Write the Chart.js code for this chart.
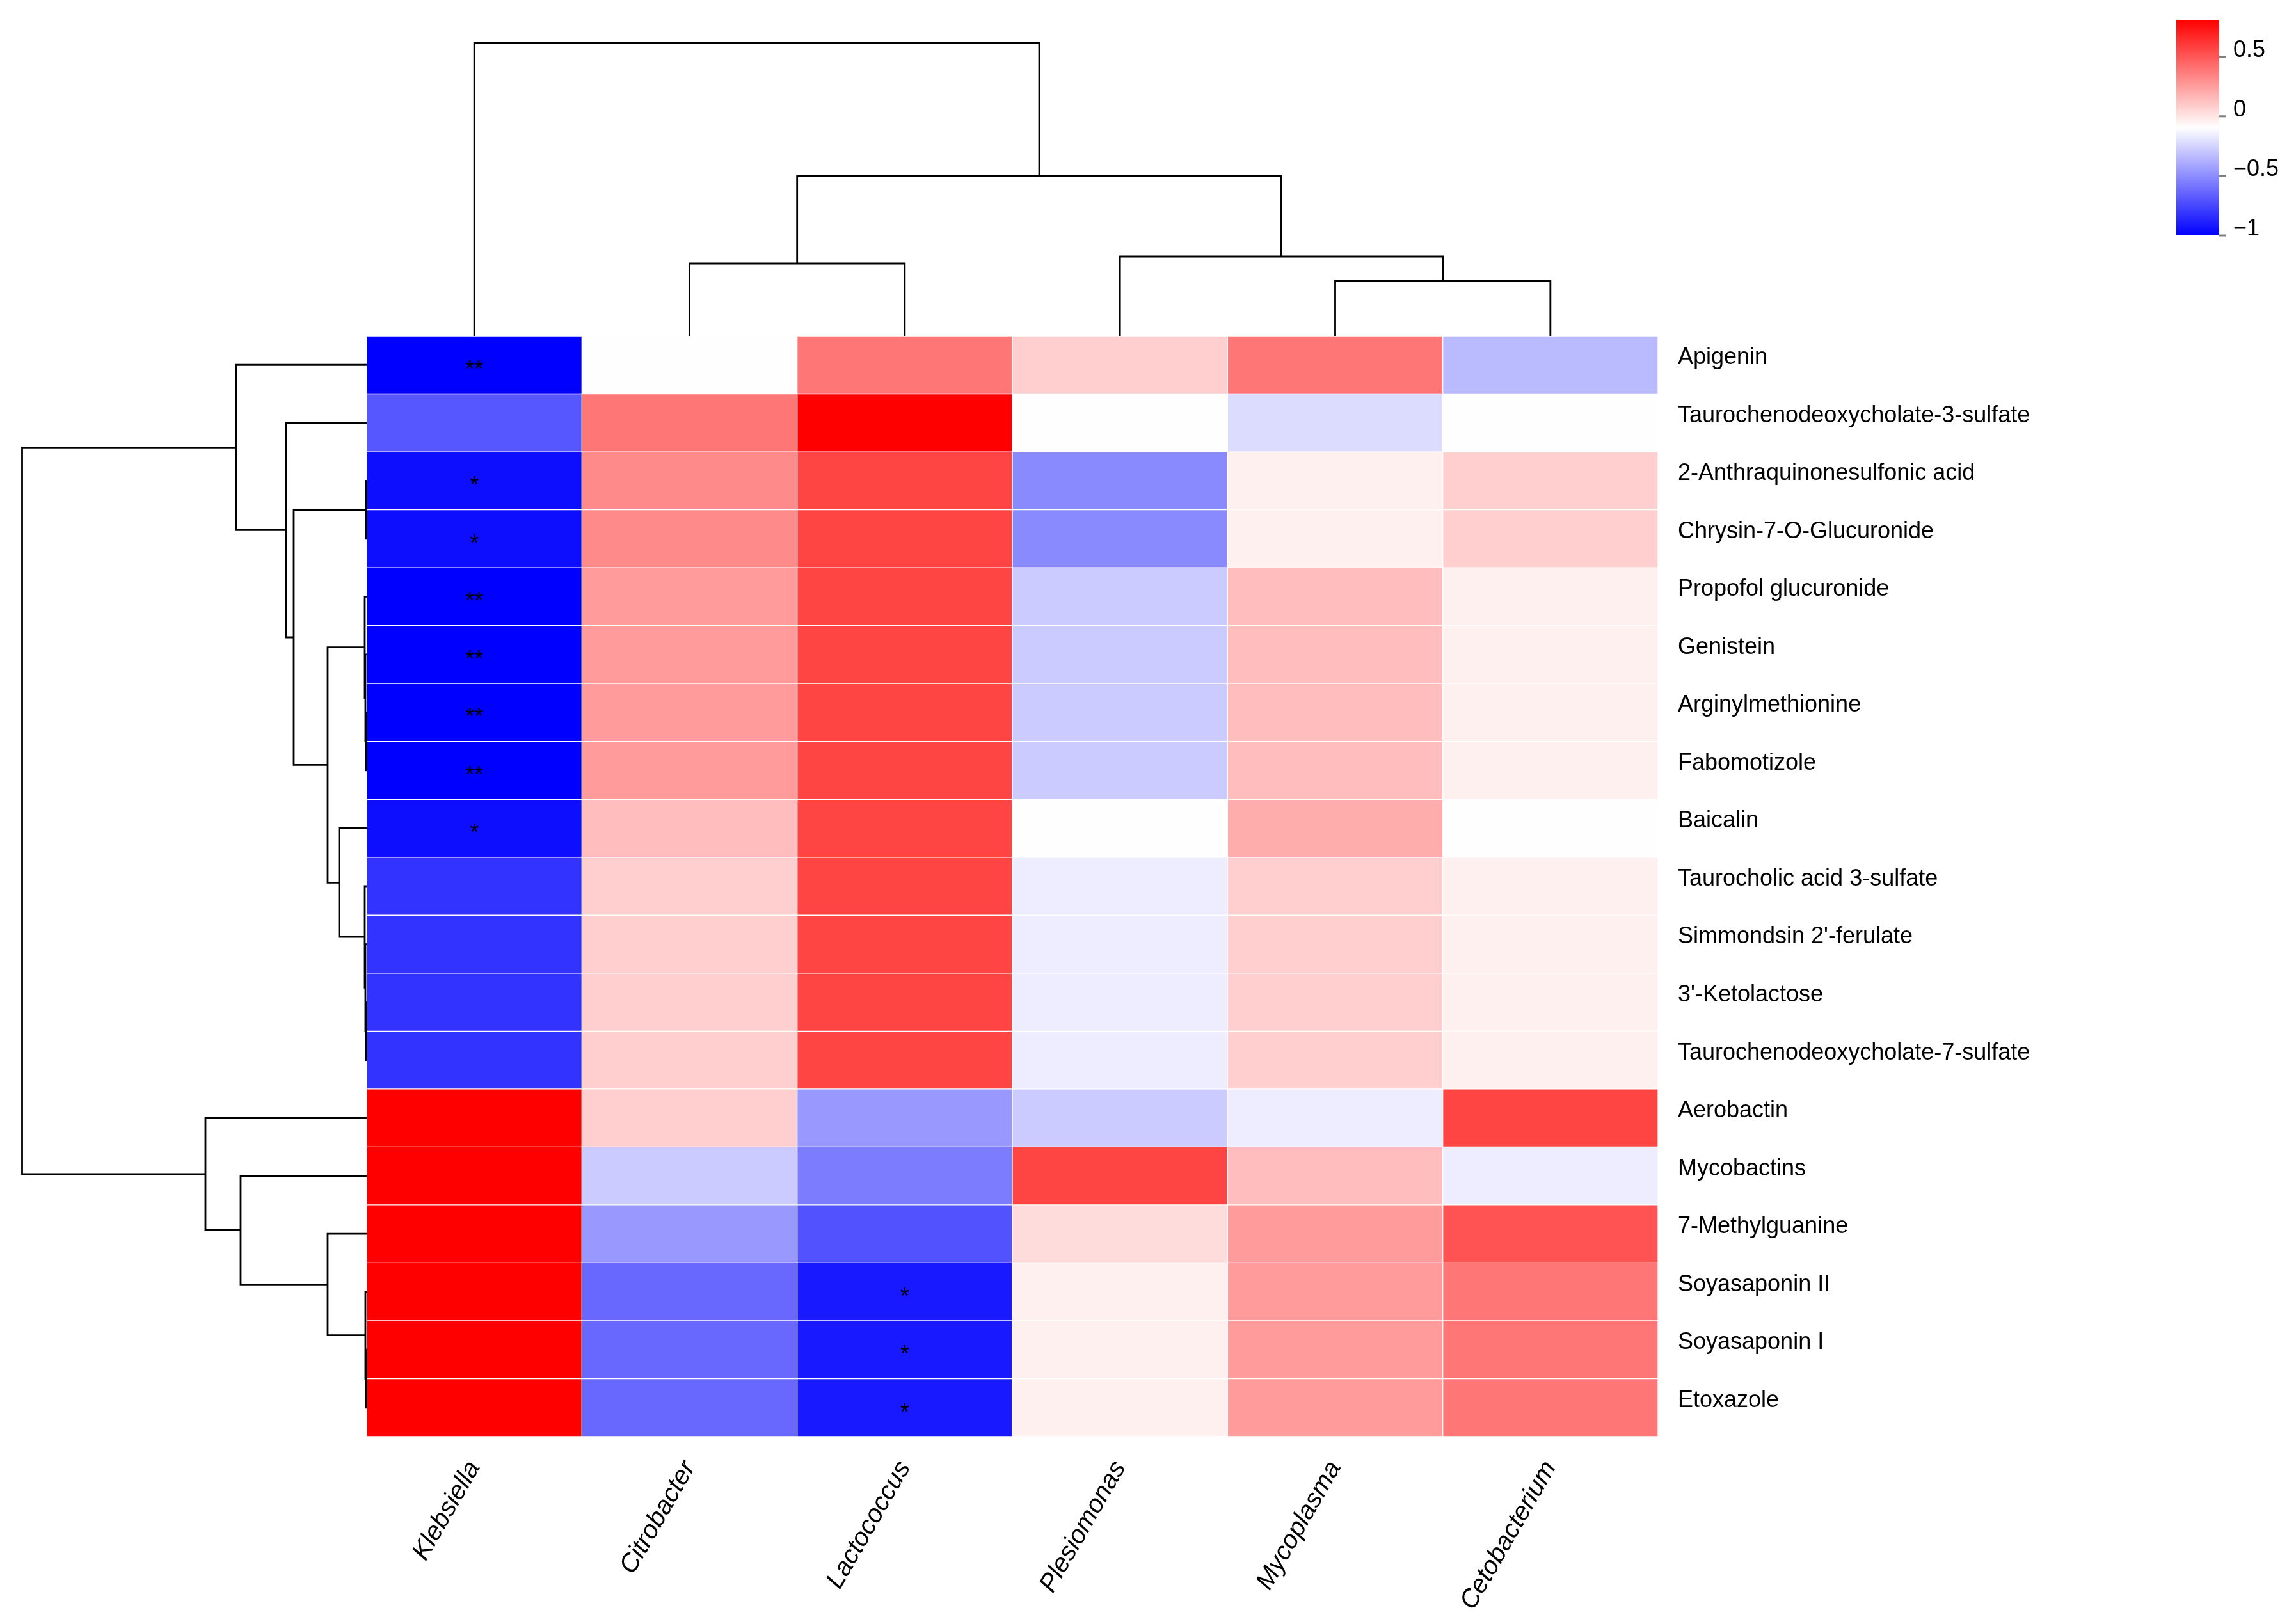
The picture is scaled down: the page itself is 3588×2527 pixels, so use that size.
<!DOCTYPE html>
<html>
<head>
<meta charset="utf-8">
<script src="https://cdn.jsdelivr.net/npm/chart.js@4.4.1/dist/chart.umd.min.js"></script>
<style>
  html, body { margin: 0; padding: 0; background: #fff; }
  #wrap { width: 3588px; height: 2527px; position: relative; }
</style>
</head>
<body>
<div id="wrap"><canvas id="heatmap"></canvas></div>
<script>
// Rows (metabolites), top to bottom
const metabolites = [
    'Apigenin', 'Taurochenodeoxycholate-3-sulfate', '2-Anthraquinonesulfonic acid',
    'Chrysin-7-O-Glucuronide', 'Propofol glucuronide', 'Genistein', 'Arginylmethionine',
    'Fabomotizole', 'Baicalin', 'Taurocholic acid 3-sulfate', "Simmondsin 2'-ferulate",
    "3'-Ketolactose", 'Taurochenodeoxycholate-7-sulfate', 'Aerobactin', 'Mycobactins',
    '7-Methylguanine', 'Soyasaponin II', 'Soyasaponin I', 'Etoxazole'
];
// Columns (genera), left to right
const genera = ['Klebsiella', 'Citrobacter', 'Lactococcus', 'Plesiomonas', 'Mycoplasma', 'Cetobacterium'];

// Correlation of each genus with every metabolite (same order as metabolites)
const klebsiella    = [-1.00, -0.69, -0.95, -0.95, -1.00, -1.00, -1.00, -1.00, -0.95, -0.82, -0.82, -0.82, -0.82, 0.81, 0.81, 0.81, 0.81, 0.81, 0.81];
const citrobacter   = [-0.10, 0.39, 0.32, 0.32, 0.26, 0.26, 0.26, 0.26, 0.14, 0.08, 0.08, 0.08, 0.08, 0.08, -0.28, -0.46, -0.63, -0.63, -0.63];
const lactococcus   = [0.39, 0.81, 0.57, 0.57, 0.57, 0.57, 0.57, 0.57, 0.57, 0.57, 0.57, 0.57, 0.57, -0.46, -0.56, -0.71, -0.91, -0.91, -0.91];
const plesiomonas   = [0.08, -0.10, -0.51, -0.51, -0.28, -0.28, -0.28, -0.28, -0.10, -0.16, -0.16, -0.16, -0.16, -0.28, 0.57, 0.03, -0.04, -0.04, -0.04];
const mycoplasma    = [0.39, -0.22, -0.04, -0.04, 0.14, 0.14, 0.14, 0.14, 0.20, 0.08, 0.08, 0.08, 0.08, -0.16, 0.14, 0.26, 0.26, 0.26, 0.26];
const cetobacterium = [-0.34, -0.09, 0.08, 0.08, -0.04, -0.04, -0.04, -0.04, -0.10, -0.04, -0.04, -0.04, -0.04, 0.57, -0.16, 0.52, 0.39, 0.39, 0.39];

// Significance marks
const klebsiellaSig  = ['**', '', '*', '*', '**', '**', '**', '**', '*', '', '', '', '', '', '', '', '', '', ''];
const lactococcusSig = ['', '', '', '', '', '', '', '', '', '', '', '', '', '', '', '', '*', '*', '*'];
const noSig = metabolites.map(() => '');

// Row clustering (hclust style: negative = leaf row, positive = earlier merge), heights
const rowMerges = [
    [-3, -4, 0.01], [-7, -8, 0.01], [-6, 2, 0.02], [-5, 3, 0.03],
    [-12, -13, 0.01], [-11, 5, 0.02], [-10, 6, 0.03], [-9, 7, 0.43],
    [4, 8, 0.61], [1, 9, 1.14], [-2, 10, 1.26], [-1, 11, 2.04],
    [-18, -19, 0.01], [-17, 13, 0.02], [-16, 14, 0.61], [-15, 15, 1.97],
    [-14, 16, 2.52], [12, 17, 5.385]
];
// Column clustering
const colMerges = [[-2, -3, 1.13], [-5, -6, 0.86], [-4, 2, 1.24], [1, 3, 2.50], [-1, 4, 4.58]];

// Colour key
const keyMin = -1.0, keyMax = 0.81;
const keyTicks = [0.5, 0, -0.5, -1];

function heatColour(v) {
    let t = (v - keyMin) / (keyMax - keyMin);
    t = Math.max(0, Math.min(1, t));
    if (t < 0.5) {
        const s = Math.round(255 * t / 0.5);
        return `rgb(${s},${s},255)`;
    }
    const s = Math.round(255 * (1 - t) / 0.5);
    return `rgb(255,${s},${s})`;
}

const seriesValues = [klebsiella, citrobacter, lactococcus, plesiomonas, mycoplasma, cetobacterium];
const seriesSig = [klebsiellaSig, noSig, lactococcusSig, noSig, noSig, noSig];

const FONT = '"Liberation Sans", Arial, sans-serif';

// walk an hclust merge table, returning segments [posA, hA, posB, hB, h]
function dendroSegments(merges, leafPos) {
    const pos = [], hgt = [], segs = [];
    const at = id => id < 0 ? [leafPos(-id - 1), 0] : [pos[id - 1], hgt[id - 1]];
    merges.forEach(([a, b, h], k) => {
        const [pa, ha] = at(a), [pb, hb] = at(b);
        segs.push([pa, ha, pb, hb, h]);
        pos[k] = (pa + pb) / 2;
        hgt[k] = h;
    });
    return segs;
}

const heatmapDecor = {
    id: 'heatmapDecor',
    afterDatasetsDraw(chart) {
        const {ctx, chartArea, scales: {x, y}} = chart;
        ctx.save();

        // significance stars
        ctx.fillStyle = '#000';
        ctx.font = '36px ' + FONT;
        ctx.textAlign = 'center';
        ctx.textBaseline = 'middle';
        seriesSig.forEach((sig, c) => {
            sig.forEach((s, r) => {
                if (s) ctx.fillText(s, x.getPixelForValue(c + 0.5), y.getPixelForValue(r) + 9);
            });
        });

        ctx.strokeStyle = '#000';
        ctx.lineWidth = 2.8;
        ctx.lineJoin = 'miter';
        ctx.lineCap = 'butt';

        // column dendrogram (top)
        const colMax = Math.max(...colMerges.map(m => m[2]));
        const kT = 458 / colMax;
        dendroSegments(colMerges, i => x.getPixelForValue(i + 0.5)).forEach(([pa, ha, pb, hb, h]) => {
            ctx.beginPath();
            ctx.moveTo(pa, chartArea.top - ha * kT);
            ctx.lineTo(pa, chartArea.top - h * kT);
            ctx.lineTo(pb, chartArea.top - h * kT);
            ctx.lineTo(pb, chartArea.top - hb * kT);
            ctx.stroke();
        });

        // row dendrogram (left)
        const rowMax = Math.max(...rowMerges.map(m => m[2]));
        const kL = 538.5 / rowMax;
        dendroSegments(rowMerges, i => y.getPixelForValue(i)).forEach(([pa, ha, pb, hb, h]) => {
            ctx.beginPath();
            ctx.moveTo(chartArea.left - ha * kL, pa);
            ctx.lineTo(chartArea.left - h * kL, pa);
            ctx.lineTo(chartArea.left - h * kL, pb);
            ctx.lineTo(chartArea.left - hb * kL, pb);
            ctx.stroke();
        });

        // colour key
        const kx = 3401, kw = 67, ktop = 31, kbot = 368;
        const grad = ctx.createLinearGradient(0, kbot, 0, ktop);
        grad.addColorStop(0, heatColour(keyMin));
        grad.addColorStop(0.5, heatColour((keyMin + keyMax) / 2));
        grad.addColorStop(1, heatColour(keyMax));
        ctx.fillStyle = grad;
        ctx.fillRect(kx, ktop, kw, kbot - ktop);

        ctx.font = '36px ' + FONT;
        ctx.textAlign = 'left';
        ctx.textBaseline = 'alphabetic';
        keyTicks.forEach(v => {
            const ty = kbot - (v - keyMin) / (keyMax - keyMin) * (kbot - ktop);
            ctx.strokeStyle = '#7f7f7f';
            ctx.lineWidth = 3;
            ctx.beginPath();
            ctx.moveTo(kx + kw, ty);
            ctx.lineTo(kx + kw + 10, ty);
            ctx.stroke();
            ctx.fillStyle = '#000';
            const txt = v < 0 ? '\u2212' + Math.abs(v) : String(v);
            ctx.fillText(txt, kx + kw + 22, ty);
        });

        ctx.restore();
    }
};

new Chart(document.getElementById('heatmap'), {
    type: 'bar',
    data: {
        labels: metabolites,
        datasets: genera.map((g, c) => ({
            label: g,
            data: metabolites.map(() => 1),
            stack: 'cells',
            backgroundColor: ctx => heatColour(seriesValues[c][ctx.dataIndex]),
            borderColor: 'rgba(255,255,255,0.22)',
            borderWidth: 1,
            borderSkipped: false,
            barPercentage: 1,
            categoryPercentage: 1
        }))
    },
    options: {
        indexAxis: 'y',
        responsive: true,
        maintainAspectRatio: false,
        devicePixelRatio: 1,
        animation: false,
        layout: {padding: {left: 573, top: 525, right: 0, bottom: 0}},
        plugins: {legend: {display: false}, tooltip: {enabled: false}},
        scales: {
            x: {
                type: 'linear',
                stacked: true,
                min: 0,
                max: 6,
                grid: {display: false},
                border: {display: false},
                afterBuildTicks: scale => {
                    scale.ticks = genera.map((g, i) => ({value: i + 0.5}));
                },
                afterFit: scale => { scale.height = 2527 - 2245; },
                ticks: {
                    autoSkip: false,
                    minRotation: 60,
                    maxRotation: 60,
                    padding: 22,
                    color: '#000',
                    font: {family: FONT, size: 40, style: 'italic'},
                    callback: (v, i) => genera[i]
                }
            },
            y: {
                position: 'right',
                stacked: true,
                grid: {display: false},
                border: {display: false},
                afterFit: scale => { scale.width = 3588 - 2591; },
                ticks: {
                    padding: 23,
                    labelOffset: -11,
                    color: '#000',
                    font: {family: FONT, size: 36}
                }
            }
        }
    },
    plugins: [heatmapDecor]
});
</script>
</body>
</html>
